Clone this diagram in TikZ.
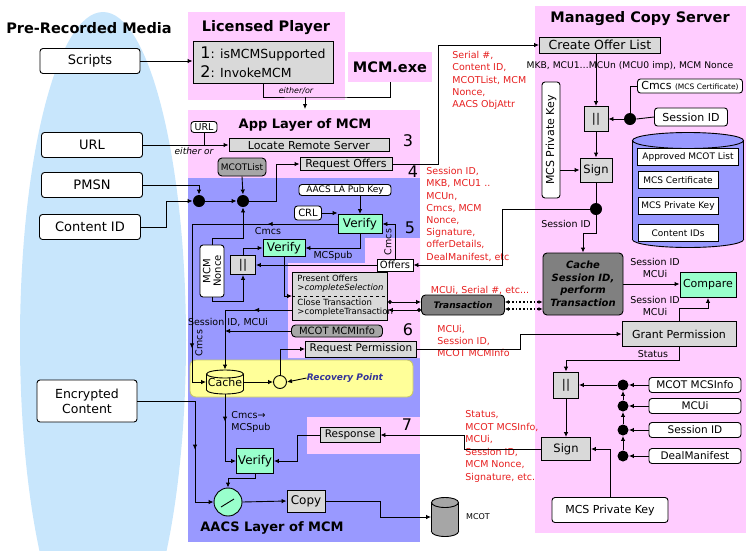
\documentclass[tikz,border=0pt]{standalone}
\usepackage{fontspec}
\setmainfont{DejaVu Sans}
\usepackage{graphicx}
\usepackage{xcolor}
\usetikzlibrary{arrows.meta,decorations.markings,positioning}
\definecolor{regpink}{RGB}{255,204,255}
\definecolor{regblue}{RGB}{153,153,255}
\definecolor{mediablue}{RGB}{200,230,252}
\definecolor{boxgrey}{RGB}{217,217,217}
\definecolor{midgrey}{RGB}{166,166,166}
\definecolor{darkgrey}{RGB}{128,128,128}
\definecolor{mint}{RGB}{153,255,204}
\definecolor{hiyellow}{RGB}{255,255,153}
\definecolor{yellowedge}{RGB}{200,200,110}
\definecolor{lblred}{RGB}{230,30,30}
\definecolor{recblue}{RGB}{51,51,153}
\newcommand{\setfs}[2]{\fontsize{#1}{#2}\selectfont}
% cylinder: cx, cy, width, height, cap, fill
\newcommand{\drawcyl}[6]{%
  \filldraw[fill=#6] (#1,{#2+#4/2-#5}) ellipse [x radius=#3/2*1pt, y radius=#5*1pt];
  \fill[#6] ({#1-#3/2},{#2-#4/2+#5}) rectangle ({#1+#3/2},{#2+#4/2-#5});
  \draw ({#1-#3/2},{#2-#4/2+#5}) -- ({#1-#3/2},{#2+#4/2-#5});
  \draw ({#1+#3/2},{#2-#4/2+#5}) -- ({#1+#3/2},{#2+#4/2-#5});
  \filldraw[fill=#6] (#1,{#2-#4/2+#5}) ellipse [x radius=#3/2*1pt, y radius=#5*1pt];
}
\begin{document}
\begin{tikzpicture}[x=1pt,y=-1pt,line width=0.9pt,
    >={Latex[length=5pt,width=4.5pt]},
    every node/.style={inner sep=0pt},
    wbox/.style={draw,fill=white,rounded corners=3pt,align=center},
    gbox/.style={draw,fill=boxgrey,align=center},
    dbox/.style={draw,fill=#1,rounded corners=4pt,align=center},
    dbox/.default=midgrey,
    vbox/.style={draw,fill=mint,font=\setfs{12}{14}},
    lbox/.style={wbox,minimum width=101pt,minimum height=25pt,font=\setfs{13}{15}},
    jdot/.style={circle,fill=black,minimum size=12pt},
    redlbl/.style={text=lblred,align=left,anchor=north west,font=\setfs{9.5}{12.2}},
    smalltxt/.style={font=\setfs{9.5}{11.5},align=center},
    ttl/.style={font=\bfseries\setfs{14.5}{17}},
    stepno/.style={font=\setfs{16}{16}}]
\useasboundingbox (0,0) rectangle (750,550);

% Background regions
\fill[mediablue] (103,340) ellipse [x radius=83pt, y radius=328pt];
\fill[regpink] (188,12) rectangle (345,100);
\fill[regpink] (188,110) rectangle (420,180);
\fill[regpink] (535,6) rectangle (746,533);
\fill[regblue] (188,178) rectangle (420,542);
\fill[regpink] (365,238) -- (420,238) -- (420,358) -- (288,358) -- (288,263) -- (365,263) -- cycle;
\fill[regpink] (307,417) rectangle (420,454);
\filldraw[fill=hiyellow, draw=yellowedge, rounded corners=6pt] (190,360) rectangle (413,397);

% Titles
\node[ttl] (prmtitle) at (89,28) {Pre-Recorded Media};
\node[ttl] (lptitle) at (266,28) {Licensed Player};
\node[ttl,fill=regpink,minimum width=84pt,minimum height=30pt] (mcmexe) at (390,67) {MCM.exe};
\node[ttl,font=\bfseries\setfs{13}{15}] (appltitle) at (305,125) {App Layer of MCM};
\node[ttl,font=\bfseries\setfs{13}{15}] (aacstitle) at (272,528) {AACS Layer of MCM};
\node[ttl] (mcstitle) at (640,19) {Managed Copy Server};

% Pre-recorded media inputs
\node[lbox,minimum width=100pt] (scripts) at (90,61) {Scripts};
\node[lbox] (url) at (92,145) {URL};
\node[lbox] (pmsn) at (92,185) {PMSN};
\node[lbox] (contentid) at (90,227) {Content ID};
\node[lbox,minimum width=100pt,minimum height=42pt,font=\setfs{12.5}{15}] (enccontent) at (87,401) {Encrypted\\Content};

% Licensed player
\node[gbox,minimum width=140pt,minimum height=42pt,align=left,font=\setfs{12.5}{19}] (cmds) at (263,62)
    {{\setfs{16}{19}1}: isMCMSupported\\{\setfs{16}{19}2}: InvokeMCM};
\node[font=\itshape\setfs{8}{9}] (eitheror) at (296,91) {either/or};
\coordinate (orjoin) at (305,97);
\coordinate (applin) at (305,109);

% App layer
\node[wbox,minimum width=26pt,minimum height=11pt,font=\setfs{9.5}{10}] (urlsmall) at (204,127) {URL};
\node[gbox,minimum width=160pt,minimum height=13pt,font=\setfs{11}{12}] (locate) at (309,145) {Locate Remote Server};
\node[font=\itshape\setfs{9}{10}] (eitheror2) at (194,151) {either or};
\node[dbox,minimum width=48pt,minimum height=18pt,font=\setfs{9}{10}] (mcotlist) at (242,167) {MCOTList};
\node[gbox,minimum width=92pt,minimum height=13pt,font=\setfs{11}{12}] (reqoffers) at (346,164) {Request Offers};
\node[jdot] (dot1) at (199,201) {};
\node[jdot] (dot2) at (243,201) {};
\node[stepno] (st3) at (408,141) {3};
\node[stepno] (st4) at (413,172) {4};
\node[stepno] (st5) at (410,228) {5};
\node[stepno] (st6) at (408,330) {6};
\node[stepno] (st7) at (407,425) {7};

% Verification of offers
\node[wbox,minimum width=92pt,minimum height=11pt,font=\setfs{9}{10}] (aacspub) at (345,190) {AACS LA Pub Key};
\node[wbox,minimum width=27pt,minimum height=14pt,font=\setfs{10}{11}] (crl) at (308,213) {CRL};
\node[vbox,minimum width=44pt,minimum height=19pt] (verify1) at (360,224) {Verify};
\node[vbox,minimum width=42pt,minimum height=17pt] (verify2) at (284,248) {Verify};
\node[wbox,minimum width=24pt,minimum height=52pt,font=\setfs{10}{11}] (nonce) at (212,271)
    {\rotatebox{90}{\shortstack{MCM\\Nonce}}};
\node[gbox,minimum width=25pt,minimum height=19pt,font=\setfs{12}{12}] (concat1) at (243,265) {||};
\node[draw,fill=white,minimum width=36pt,minimum height=12pt,font=\setfs{10}{11}] (offers) at (395,265) {Offers};
\node[smalltxt] (cmcslbl1) at (268,231) {Cmcs};
\node[smalltxt] (mcspublbl) at (333,256) {MCSpub};
\node[smalltxt,rotate=90] (cmcslbl2) at (388,242) {Cmcs};

% Offers and transaction
\node[gbox,minimum width=95pt,minimum height=48pt] (present) at (340,296) {};
\draw[dashed] (present.west) -- (present.east);
\node[anchor=west,align=left,font=\setfs{8.5}{9}] (presenttxt) at (297,284) {Present Offers\\\textit{>completeSelection}};
\node[anchor=west,align=left,font=\setfs{8.5}{9}] (closetxt) at (297,308) {Close Transaction\\>completeTransaction};
\node[dbox=darkgrey,minimum width=83pt,minimum height=20pt,font=\bfseries\itshape\setfs{9}{10}] (transaction) at (463,305) {Transaction};
\node[redlbl,anchor=center] (txlbl) at (480,290) {MCUi, Serial \#, etc...};
\node[dbox,minimum width=91pt,minimum height=12pt,font=\setfs{10}{11}] (mcotmcminfo) at (337,331) {MCOT MCMInfo};
\node[gbox,minimum width=111pt,minimum height=16pt,font=\setfs{10.5}{12}] (reqperm) at (361,349) {Request Permission};
\node[smalltxt] (sesslbl) at (228,322) {Session ID, MCUi};
\node[smalltxt,rotate=90] (cmcslbl3) at (199,343) {Cmcs};

% Recovery
\drawcyl{225}{382}{37}{24}{4}{hiyellow}
\node[minimum width=37pt,minimum height=24pt,font=\setfs{11}{12}] (cache) at (225,382) {\raisebox{-3pt}{Cache}};
\node[circle,draw,fill=hiyellow,minimum size=13pt] (recpt) at (280,382) {};
\node[text=recblue,font=\bfseries\itshape\setfs{9}{10}] (recovery) at (345,378) {Recovery Point};

% AACS layer: copy
\node[gbox,minimum width=60pt,minimum height=15pt,font=\setfs{10.5}{12}] (response) at (350,435) {Response};
\node[vbox,minimum width=37pt,minimum height=25pt] (verify3) at (255,461) {Verify};
\node[smalltxt,align=left,anchor=north west] (cmcspub) at (231,411) {Cmcs→\\MCSpub};
\node[circle,draw,fill=mint,minimum size=28pt] (meter) at (228,502) {};
\draw ([shift={(-7pt,-5pt)}]meter.center) -- ([shift={(6pt,3pt)}]meter.center);
\node[gbox,minimum width=38pt,minimum height=22pt,font=\setfs{12}{13}] (copy) at (306,501) {Copy};
\drawcyl{445}{517}{27}{39}{5}{midgrey}
\node[minimum width=27pt,minimum height=39pt] (mcot) at (445,517) {};
\node[font=\setfs{8}{9}] (mcotlbl) at (478,517) {MCOT};

% Managed copy server
\node[gbox,minimum width=121pt,minimum height=16pt,font=\setfs{12.5}{14}] (createoffer) at (600,45) {Create Offer List};
\node[font=\setfs{9.2}{10}] (mkblbl) at (630,66) {MKB, MCU1…MCUn (MCU0 imp), MCM Nonce};
\node[wbox,minimum width=105pt,minimum height=14pt,font=\setfs{11}{12}] (cmcs) at (690,86) {Cmcs {\setfs{7.5}{9}(MCS Certificate)}};
\node[wbox,minimum width=73pt,minimum height=18pt,font=\setfs{11}{12}] (sessid1) at (691,117) {Session ID};
\node[jdot] (sdot1) at (630,119) {};
\node[gbox,minimum width=24pt,minimum height=25pt,font=\setfs{12}{12}] (concat2) at (596,119) {||};
\node[wbox,minimum width=18pt,minimum height=116pt,font=\setfs{11}{12}] (mcspriv1) at (551,140) {\rotatebox{90}{MCS Private Key}};
\node[gbox,minimum width=32pt,minimum height=24pt,font=\setfs{11.5}{12}] (sign1) at (596,170) {Sign};
\node[jdot] (sdot2) at (596,209) {};
\node[smalltxt] (sesslbl2) at (566,224) {Session ID};
\node[redlbl] (offerlbl) at (452,51) {Serial \#,\\Content ID,\\MCOTList, MCM\\Nonce,\\AACS ObjAttr};
\node[redlbl] (signlbl) at (426,167) {Session ID,\\MKB, MCU1 ..\\MCUn,\\Cmcs, MCM\\Nonce,\\Signature,\\offerDetails,\\DealManifest, etc};

% Server database
\drawcyl{688}{190}{111}{115}{8}{regblue}
\foreach \name/\txt/\xx/\yy/\ww in {dbmcot/Approved MCOT List/688/157/101pt, dbcert/MCS Certificate/678/180/80pt,
    dbkey/MCS Private Key/678/206/80pt, dbcid/Content IDs/678/233/80pt} {
    \node[draw,fill=white,minimum width=\ww,minimum height=17pt,font=\setfs{9}{10}] (\name) at (\xx,\yy) {\txt};
}

% Permission
\node[dbox=darkgrey,minimum width=80pt,minimum height=62pt,font=\bfseries\itshape\setfs{10}{12.5}] (cachesess) at (583,284)
    {Cache\\Session ID,\\perform\\Transaction};
\node[vbox,minimum width=56pt,minimum height=25pt,font=\setfs{11}{12}] (compare) at (708,285) {Compare};
\node[gbox,minimum width=114pt,minimum height=25pt,font=\setfs{11}{12}] (grant) at (679,334) {Grant Permission};
\node[smalltxt] (cmplbl1) at (655,268) {Session ID\\MCUi};
\node[smalltxt] (cmplbl2) at (655,306) {Session ID\\MCUi};
\node[smalltxt] (statlbl) at (653,354) {Status};
\node[redlbl,font=\setfs{9.5}{11.7}] (permlbl) at (437,325) {MCUi,\\Session ID,\\MCOT MCMInfo};
\node[gbox,minimum width=25pt,minimum height=26pt,font=\setfs{12}{12}] (concat3) at (566,385) {||};
\node[gbox,minimum width=49pt,minimum height=23pt,font=\setfs{11.5}{12}] (sign2) at (566,449) {Sign};
\node[wbox,minimum width=116pt,minimum height=25pt,font=\setfs{11}{12}] (mcspriv2) at (610,510) {MCS Private Key};
\node[redlbl,font=\setfs{9.5}{12.6}] (resplbl) at (465,410) {Status,\\MCOT MCSInfo,\\MCUi,\\Session ID,\\MCM Nonce,\\Signature, etc.};
\foreach \name/\txt/\yy in {msinfo/MCOT MCSInfo/385, smcui/MCUi/406, ssess/Session ID/430, sdeal/DealManifest/456} {
    \node[wbox,minimum width=92pt,minimum height=15pt,font=\setfs{10.5}{12}] (\name) at (695,\yy) {\txt};
    \node[jdot,minimum size=11pt] (d\name) at (623,\yy) {};
    \draw[->] (\name.west) -- (d\name.east);
}

% Connectors: inputs and player
\draw[->] (scripts.east) -- (scripts.east -| cmds.west);
\draw (cmds.south) |- (orjoin) -| (mcmexe.south);
\draw[->] (orjoin) -- (applin);
\draw[->] (url.east) -- (locate.west);
\draw (urlsmall.south) -- (urlsmall.south |- locate.west);
\draw[->] (pmsn.east) -| (dot1.north);
\draw[->] (contentid.east) -- (166,227) |- (dot1.west);
\draw[->] (dot1.east) -- (dot2.west);
\draw[->] (mcotlist.south) -- (dot2.north);
\draw[->] (dot2.east) -- (276,201) |- (reqoffers.west);
\draw[->] (reqoffers.east) -- (438,164) |- (createoffer.west);

% Connectors: offers
\draw[->] (aacspub.south -| verify1.north) -- (verify1.north);
\draw[->] (crl.east) -- (crl.east -| verify1.west);
\draw[->,postaction={decorate},decoration={markings,mark=at position 0.22 with {\arrow{>}},
    mark=at position 0.85 with {\arrow{>}}}] (verify1.west) -- (192,224) |- (cache.west);
\draw[->] (offers.north) |- (verify1.east);
\draw[->] (verify1.south) |- (verify2.east);
\draw[->] (sdot2.west) -- (502,209) |- (offers.east);
\draw[->] (offers.west) -- (offers.west -| concat1.east);
\draw[->] (concat1.north) |- (verify2.west);
\draw[->] (nonce.north) -- (212,238) -| (dot2.south);
\draw[->] (nonce.south) -- ++(0,4) -| (concat1.south);
\draw[->] (verify2.south) |- (present.west);
\draw[->,postaction={decorate},decoration={markings,mark=at position 0.3 with {\arrow{>}}}]
    ([yshift=-14pt]present.west) -| (cache.north);
\draw[->] (mcotmcminfo.west) -- (mcotmcminfo.west -| cache.north);
\draw[{Circle[length=4pt]}->] ([yshift=-6pt]present.east) -- ([yshift=-6pt]present.east -| transaction.west);
\draw[{Circle[length=4pt]}->] ([yshift=-5pt]transaction.west) -- ([yshift=-5pt]transaction.west -| present.east);
\draw[dotted,line width=1.6pt,{Latex[length=4pt,width=4pt]}-{Latex[length=4pt,width=4pt]}]
    ([yshift=3pt]transaction.east) -- ([yshift=3pt]transaction.east -| cachesess.west);
\draw[dotted,line width=1.6pt,{Latex[length=4pt,width=4pt]}-{Latex[length=4pt,width=4pt]}]
    ([yshift=-4pt]transaction.east) -- ([yshift=-4pt]transaction.east -| cachesess.west);

% Connectors: server
\draw[->] (createoffer.south -| concat2) -- (concat2.north);
\draw (sessid1.west) -- (sdot1.east);
\draw (sdot1.north) |- (cmcs.west);
\draw[->] (sdot1.west) -- (concat2.east);
\draw[->] (concat2.south) -- (sign1.north);
\draw[->] (mcspriv1.east |- sign1.west) -- (sign1.west);
\draw (sign1.south) -- (sdot2.north);
\draw[->] (sdot2.south) -- ++(0,18) -| (cachesess.north);
\draw[->] (cachesess.east) -- (cachesess.east -| compare.west);
\draw[->] (grant.north) -- ++(0,-13) -| (compare.south);
\draw[->] (reqperm.east) -- (520,349) |- (grant.west);
\draw[->] (recpt.north) |- (reqperm.west);
\draw[->] (cache.east) -- (recpt.west);
\draw[->] (recovery.west) -- (recpt.east);
\draw[->] (grant.south) -- ++(0,13) -| (concat3.north);
\draw[->] (dsdeal.north) -- (dssess.south);
\draw[->] (dssess.north) -- (dsmcui.south);
\draw[->] (dsmcui.north) -- (dmsinfo.south);
\draw[->] (dmsinfo.west) -- (concat3.east);
\draw[->] (concat3.south) -- (sign2.north);
\draw[->] (mcspriv2.north) |- (sign2.east);
\draw[->] (sign2.west) -- (464,449) |- (response.east);

% Connectors: copy
\draw[->] (response.west) -- (297,435) |- (verify3.east);
\draw[->,postaction={decorate},decoration={markings,mark=at position 0.35 with {\arrow{>}}}]
    (cache.south) |- (verify3.west);
\draw[->] (verify3.south) -- ++(0,4) -| (meter.north);
\draw[->,postaction={decorate},decoration={markings,mark=at position 0.6 with {\arrow{>}}}]
    (enccontent.east) -- (195,401) |- (meter.west);
\draw[->] (meter.east) -- (copy.west);
\draw[->] (copy.east) -- (380,501) |- (mcot.west);
\end{tikzpicture}
\end{document}
